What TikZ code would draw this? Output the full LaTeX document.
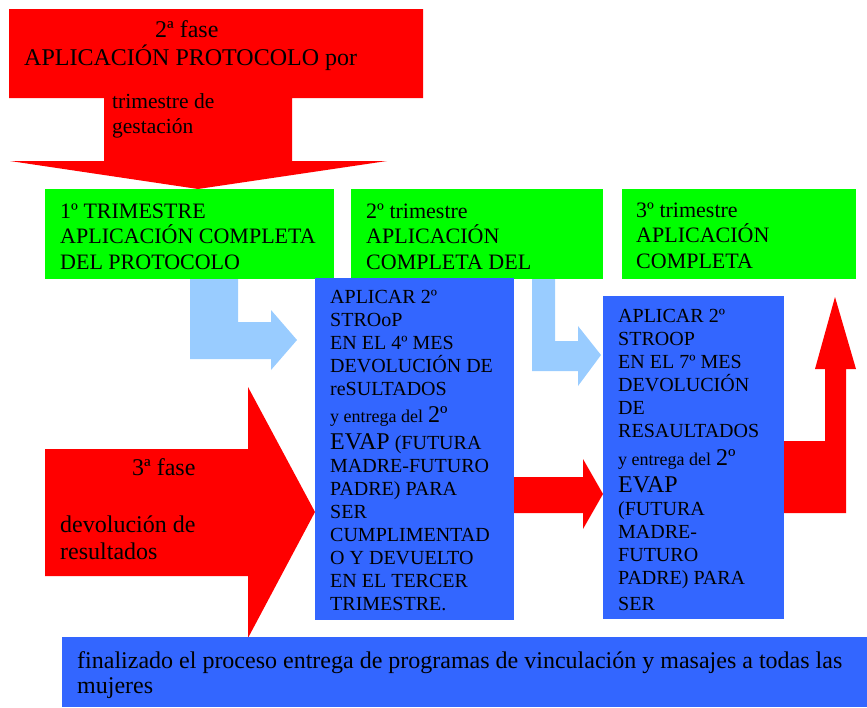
\documentclass[tikz,border=0pt]{standalone}
\usepackage{fontspec}
\setmainfont{Liberation Serif}
\definecolor{rojo}{HTML}{FF0000}
\definecolor{verde}{HTML}{00FF00}
\definecolor{azul}{HTML}{3366FF}
\definecolor{celeste}{HTML}{99CCFF}
\tikzset{
  caja/.style={anchor=north west, inner sep=0pt, outer sep=0pt},
  cajaverde/.style={caja, fill=verde},
  cajaazul/.style={caja, fill=azul},
  texto/.style={anchor=north west, inner sep=0pt, align=left},
  linea/.style={anchor=base west, inner sep=0pt}
}
\newcommand{\tope}{\rule{0pt}{1em}}

\begin{document}
\begin{tikzpicture}[x=1pt, y=-1pt]
    \useasboundingbox (0,0) rectangle (867,707);

    \fill[rojo] (9,9) -- (423,9) -- (423,98) -- (292,98) -- (292,161) -- (387,161)
        -- (198,189) -- (10,161) -- (104,161) -- (104,98) -- (9,98) -- cycle;
    \node[linea, font=\fontsize{24}{28}\selectfont] (fase2) at (155,37) {2ª fase};
    \node[linea, font=\fontsize{24}{28}\selectfont] (protocolo) at (24,65) {APLICACIÓN PROTOCOLO por};
    \node[texto, font=\fontsize{21.5}{25}\selectfont] (gestacion) at (112,86.5) {\tope trimestre de\\gestación};

    \fill[celeste] (190,279) -- (238,279) -- (238,322) -- (271,322) -- (271,310) -- (297,340)
        -- (271,370) -- (271,359) -- (190,359) -- cycle;
    \fill[celeste] (532,279) -- (555,279) -- (555,341) -- (578,341) -- (578,326) -- (601,355)
        -- (578,386) -- (578,371) -- (532,371) -- cycle;

    \node[cajaverde, minimum width=289pt, minimum height=90pt] (g1) at (45,189) {};
    \node[cajaverde, minimum width=252pt, minimum height=90pt] (g2) at (351,189) {};
    \node[cajaverde, minimum width=234pt, minimum height=90pt] (g3) at (622,189) {};
    \node[texto, font=\fontsize{22}{25.5}\selectfont] (t1) at (60,196)
        {\tope 1º TRIMESTRE\\APLICACIÓN COMPLETA\\DEL PROTOCOLO};
    \node[texto, font=\fontsize{22}{25.5}\selectfont] (t2) at (366,196)
        {\tope 2º trimestre\\APLICACIÓN\\COMPLETA DEL};
    \node[texto, font=\fontsize{22}{25.5}\selectfont] (t3) at (636,195)
        {\tope 3º trimestre\\APLICACIÓN\\COMPLETA};

    \fill[rojo] (45,449) -- (248,449) -- (248,387) -- (315,512) -- (248,638) -- (248,576)
        -- (45,576) -- cycle;
    \node[linea, font=\fontsize{24}{27}\selectfont] (fase3) at (132,475) {3ª fase};
    \node[texto, font=\fontsize{24}{27}\selectfont] (devolucion) at (60,508)
        {\tope devolución de\\resultados};

    \node[cajaazul, minimum width=199pt, minimum height=342pt] (b1) at (315,278) {};
    \node[cajaazul, minimum width=181pt, minimum height=323pt] (b2) at (603,296) {};

    \fill[rojo] (b1.east |- 0,477) -- (583,477) -- (583,459) -- (b2.west |- 0,494) -- (583,529)
        -- (583,513) -- (b1.east |- 0,513) -- cycle;
    \fill[rojo] (b2.east |- 0,441) -- (825,441) -- (825,369) -- (815,369) -- (835,297)
        -- (856,369) -- (846,369) -- (846,513) -- (b2.east |- 0,513) -- cycle;

    \node[texto, font=\fontsize{20}{23}\selectfont] (s1) at (330,283)
        {\tope APLICAR 2º\\STROoP\\EN EL 4º MES\\DEVOLUCIÓN DE\\reSULTADOS\\[4pt]
         {\fontsize{18}{23}\selectfont y entrega del} {\fontsize{24}{23}\selectfont 2º}\\[4pt]
         {\fontsize{24}{23}\selectfont EVAP} (FUTURA\\MADRE-FUTURO\\PADRE) PARA\\SER\\
         CUMPLIMENTAD\\O Y DEVUELTO\\EN EL TERCER\\TRIMESTRE.};
    \node[texto, font=\fontsize{20}{23}\selectfont] (s2) at (618,302)
        {\tope APLICAR 2º\\STROOP\\EN EL 7º MES\\DEVOLUCIÓN\\DE\\RESAULTADOS\\[5pt]
         {\fontsize{18}{23}\selectfont y entrega del} {\fontsize{24}{23}\selectfont 2º}\\[4pt]
         {\fontsize{24}{23}\selectfont EVAP}\\(FUTURA\\MADRE-\\FUTURO\\PADRE) PARA\\[3pt]SER};

    \node[cajaazul, minimum width=805pt, minimum height=70pt] (fin) at (62,637) {};
    \node[texto, font=\fontsize{24}{25.5}\selectfont] (final) at (77,644)
        {\tope finalizado el proceso entrega de programas de vinculación y masajes a todas las\\mujeres};
\end{tikzpicture}
\end{document}
